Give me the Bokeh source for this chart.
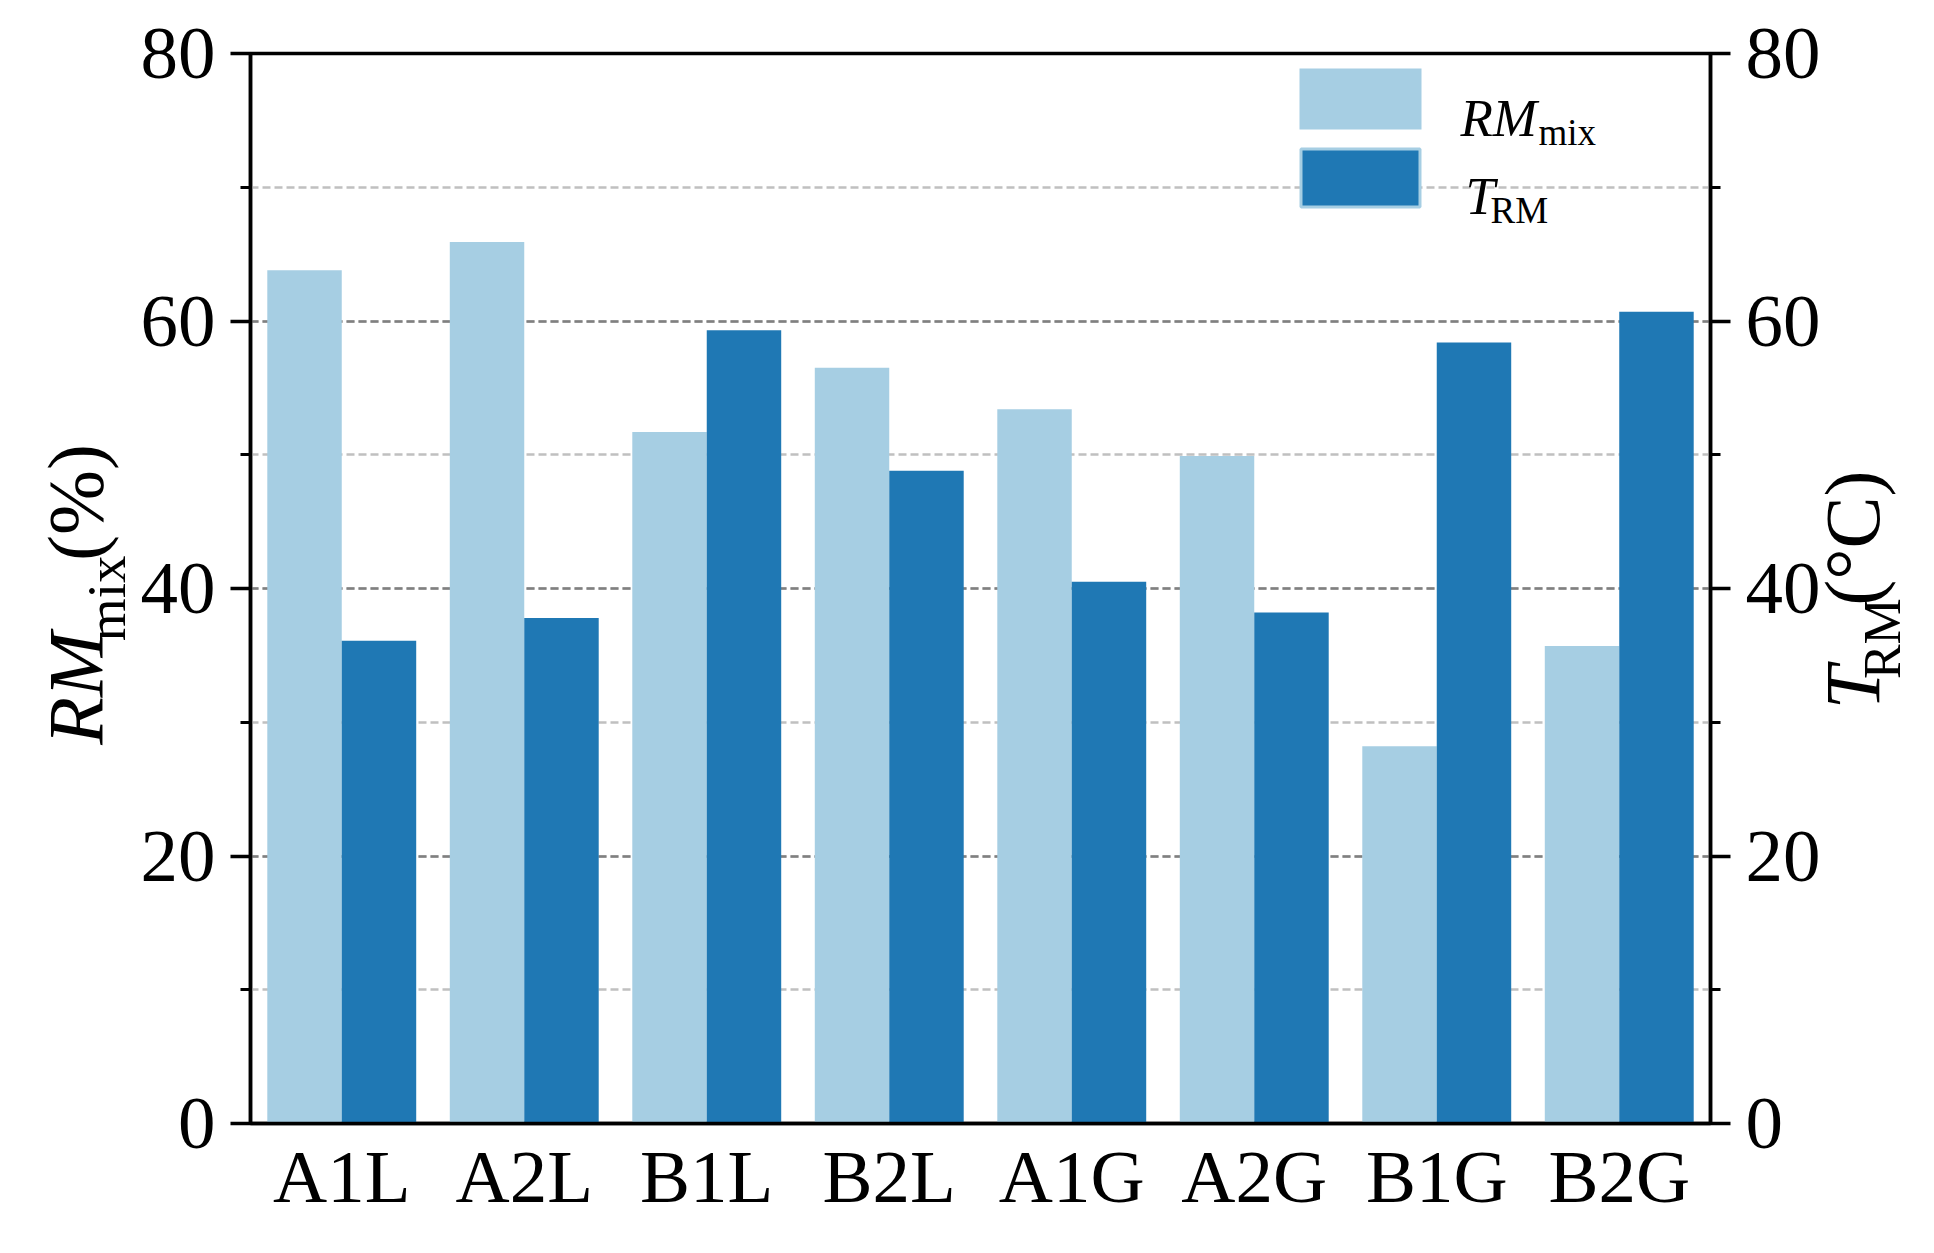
import math
from bokeh.plotting import figure
from bokeh.layouts import row
from bokeh.core.properties import value
from bokeh.models import (FactorRange, Range1d, LinearAxis, SingleIntervalTicker,
                          Label, BoxAnnotation, ColumnDataSource)
from bokeh.transform import dodge
from bokeh.embed import file_html
from bokeh.resources import INLINE

# ---- data ----
categories = ["A1L", "A2L", "B1L", "B2L", "A1G", "A2G", "B1G", "B2G"]
rm_mix = [63.8, 65.9, 51.7, 56.5, 53.4, 49.9, 28.2, 35.7]   # RM_mix (%)
t_rm = [36.1, 37.8, 59.3, 48.8, 40.5, 38.2, 58.4, 60.7]     # T_RM (°C)
y_start, y_end, y_step = 0, 80, 20

FONT = "Liberation Serif"
LIGHT = "#a6cee3"
DARK = "#1f78b4"
H = 1240

src = ColumnDataSource(dict(cat=categories, rm=rm_mix, t=t_rm))

# ---------------- main chart (page x 130 .. 1830) ----------------
p = figure(x_range=FactorRange(*categories), y_range=Range1d(y_start, y_end),
           width=1700, height=H, output_backend="svg", toolbar_location=None,
           min_border_left=120, min_border_right=120, min_border_top=53,
           min_border_bottom=117, background_fill_color="white",
           border_fill_alpha=0, margin=(0, 0, 0, -20))
p.extra_y_ranges = {"right": Range1d(y_start, y_end)}

p.vbar(x=dodge("cat", -0.204, range=p.x_range), top="rm", width=0.408, source=src,
       fill_color=LIGHT, line_color=None)
p.vbar(x=dodge("cat", 0.204, range=p.x_range), top="t", width=0.408, source=src,
       fill_color=DARK, line_color=None, y_range_name="right")

right_axis = LinearAxis(y_range_name="right")
p.add_layout(right_axis, "right")

for ax in [p.yaxis[0], right_axis]:
    ax.ticker = SingleIntervalTicker(interval=y_step, num_minor_ticks=2)
    ax.major_tick_out = 20
    ax.major_tick_in = 0
    ax.minor_tick_out = 10
    ax.minor_tick_in = 0
    ax.major_tick_line_width = 3.5
    ax.minor_tick_line_width = 3

for ax in [p.yaxis[0], right_axis, p.xaxis[0]]:
    ax.axis_line_width = 3.5
    ax.axis_line_color = "black"
    ax.major_label_text_font = FONT
    ax.major_label_text_font_size = "75px"
    ax.major_label_text_color = "black"
    ax.major_label_standoff = 15

p.xaxis.major_tick_out = 0
p.xaxis.major_tick_in = 0
p.xaxis.major_label_standoff = 11

p.outline_line_color = "black"
p.outline_line_width = 3.5
p.outline_line_alpha = 1

p.xgrid.grid_line_color = None
p.ygrid.grid_line_color = "#808080"
p.ygrid.grid_line_dash = "8 4"
p.ygrid.grid_line_width = 2.5
p.ygrid.minor_grid_line_color = "#c0c0c0"
p.ygrid.minor_grid_line_dash = "8 4"
p.ygrid.minor_grid_line_width = 2.5

# legend patches (screen units, relative to the plot frame)
p.add_layout(BoxAnnotation(left=1049, right=1171, top=1055, bottom=994,
                           left_units="screen", right_units="screen",
                           top_units="screen", bottom_units="screen",
                           fill_color=LIGHT, fill_alpha=1, line_color=None))
p.add_layout(BoxAnnotation(left=1050.5, right=1169.5, top=974.5, bottom=916.5,
                           left_units="screen", right_units="screen",
                           top_units="screen", bottom_units="screen",
                           fill_color=DARK, fill_alpha=1, line_color=LIGHT,
                           line_width=3, line_alpha=1))


def lab(text, x, y, size, italic=False):
    p.add_layout(Label(x=x, y=y, x_units="screen", y_units="screen", text=text,
                       text_font=FONT, text_font_size=f"{size}px",
                       text_font_style="italic" if italic else "normal",
                       text_align="left", text_baseline="alphabetic",
                       text_color="black"))


# legend texts
lab("RM", 1210, 1006, 53, italic=True)
lab("mix", 1288, 991, 37)
lab("T", 1215, 928, 53, italic=True)
lab("RM", 1240, 913, 37)


# ---------------- side panels holding the rotated axis titles ----------------
def side(width, margin=0):
    f = figure(width=width, height=H, x_range=Range1d(0, width), y_range=Range1d(0, H),
               output_backend="svg", toolbar_location=None, min_border=0,
               x_axis_location=None, y_axis_location=None,
               outline_line_color=None, background_fill_alpha=0,
               border_fill_alpha=0, margin=(0, 0, 0, margin))
    f.grid.visible = False
    return f


def vtext(f, text, x, y, size, italic=False):
    # rotated text lands right of and above its anchor; compensate
    f.text(x=[x - 0.39 * size], y=[y - 48], text=[text], angle=math.pi / 2,
           text_font=value(FONT), text_font_size=value(f"{size}px"),
           text_font_style="italic" if italic else "normal",
           text_align="left", text_baseline="alphabetic", text_color="black")


left = side(150)
vtext(left, "RM", 105, H - 753, 78, italic=True)
vtext(left, "mix", 127, H - 633, 55)
vtext(left, "(%)", 105, H - 540, 78)

RX = 1790
right = side(140, margin=-40)
vtext(right, "T", 1882 - RX, H - 712, 78, italic=True)
vtext(right, "RM", 1902 - RX, H - 677, 52)
vtext(right, "(°C)", 1882 - RX, H - 592, 78)

layout = row(left, p, right, spacing=0)
open("out.html", "w").write(file_html(layout, INLINE))
